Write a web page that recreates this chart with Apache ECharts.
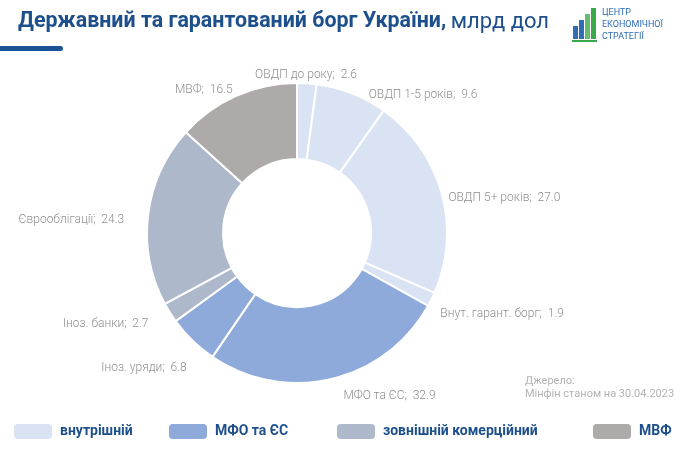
<!DOCTYPE html>
<html>
<head>
<meta charset="utf-8">
<script src="https://cdn.jsdelivr.net/npm/echarts@6/dist/echarts.min.js"></script>
<style>
  html, body { margin: 0; padding: 0; background: #fff; }
  #chart { width: 690px; height: 450px; }
</style>
</head>
<body>
<div id="chart"></div>
<script>
// складові боргу, млрд дол (Мінфін, 30.04.2023)
const names = ['ОВДП до року', 'ОВДП 1-5 років', 'ОВДП 5+ років', 'Внут. гарант. борг',
  'МФО та ЄС', 'Іноз. уряди', 'Іноз. банки', 'Єврооблігації', 'МВФ']
const values = [2.6, 9.6, 27.0, 1.9, 32.9, 6.8, 2.7, 24.3, 16.5]
// до якої групи належить кожна складова
const groupOf = [0, 0, 0, 0, 1, 1, 2, 2, 3]
const groupNames = ['внутрішній', 'МФО та ЄС', 'зовнішній комерційний', 'МВФ']
const groupColors = ['#dae3f3', '#8eaadb', '#adb9ca', '#aeaaaa']

const titleColor = '#1d4f8c'
const labelColor = '#8f8f8f'

// невеликі зсуви підписів, щоб лягли як в оригіналі (Excel best fit)
const labelNudge = [[-63, -4], [0, 2], [-3, 6], [-1, 13], [0, 13], [8, 25], [-7, 9], [-9, 6], [9, -2]]

const pieData = names.map((n, i) => ({
  name: n,
  value: values[i],
  itemStyle: { color: groupColors[groupOf[i]] }
}))

// окремі легенди, щоб поставити кожну як на оригіналі
const legendLeft = [14, 169, 337, 593]
const legends = groupNames.map((g, i) => ({
  data: [g],
  left: legendLeft[i],
  top: 424,
  padding: 0,
  icon: 'roundRect',
  itemWidth: 38,
  itemHeight: 15,
  selectedMode: false,
  textStyle: {
    color: titleColor,
    fontSize: 14,
    fontWeight: 'bold',
    fontFamily: 'Roboto',
    padding: [0, 0, 0, 3]
  }
}))

// порожні серії лише для легенди груп
const legendSeries = groupNames.map((g, i) => ({
  type: 'bar',
  name: g,
  data: [],
  itemStyle: { color: groupColors[i] }
}))

const chart = echarts.init(document.getElementById('chart'))
const option = {
  backgroundColor: '#fff',
  animation: false,
  textStyle: { fontFamily: 'Roboto' },
  title: {
    text: '{b|Державний та гарантований борг України,} {n|млрд дол}',
    left: 13,
    top: 6,
    textStyle: {
      rich: {
        b: { fontSize: 21.4, fontWeight: 'bold', color: titleColor, fontFamily: 'Roboto' },
        n: { fontSize: 22, fontWeight: 'normal', color: titleColor, fontFamily: 'Roboto' }
      }
    }
  },
  legend: legends,
  grid: { show: false, left: 0, top: 0, width: 1, height: 1 },
  xAxis: { show: false, type: 'category', data: [] },
  yAxis: { show: false, type: 'value' },
  graphic: [
    // синя риска під заголовком
    { type: 'rect', left: 0, top: 46, shape: { width: 63, height: 5, r: [0, 3, 3, 0] }, style: { fill: '#1b5296' } },
    // логотип
    { type: 'rect', left: 573, top: 26, shape: { width: 5, height: 13 }, style: { fill: '#2f6eb5' } },
    { type: 'rect', left: 579, top: 20, shape: { width: 5, height: 19 }, style: { fill: '#2f6eb5' } },
    { type: 'rect', left: 585, top: 14, shape: { width: 5, height: 25 }, style: { fill: '#67bd6b' } },
    { type: 'rect', left: 591, top: 8, shape: { width: 5, height: 31 }, style: { fill: '#3aa94a' } },
    { type: 'rect', left: 572, top: 40, shape: { width: 25, height: 2 }, style: { fill: '#3aa94a' } },
    {
      type: 'text', left: 602, top: 7,
      style: {
        text: 'ЦЕНТР\nЕКОНОМІЧНОЇ\nСТРАТЕГІЇ',
        fill: '#2f6eb5', font: '9px Roboto', lineHeight: 12
      }
    },
    // джерело
    {
      type: 'text', left: 525, top: 375,
      style: {
        text: 'Джерело:\nМінфін станом на 30.04.2023',
        fill: '#b3b3b3', font: '11px Roboto', lineHeight: 13
      }
    }
  ],
  series: [
    {
      type: 'pie',
      center: [297, 233],
      radius: [74, 150],
      startAngle: 90,
      clockwise: true,
      avoidLabelOverlap: true,
      itemStyle: { borderColor: '#fff', borderWidth: 2 },
      label: {
        show: true,
        position: 'outside',
        color: labelColor,
        fontSize: 12,
        fontWeight: 300,
        fontFamily: 'Roboto',
        formatter: p => p.name + ';  ' + p.value.toFixed(1)
      },
      labelLine: { show: false, length: 4, length2: 6 },
      labelLayout: p => ({ dx: labelNudge[p.dataIndex][0], dy: labelNudge[p.dataIndex][1] }),
      emphasis: { disabled: true },
      data: pieData
    }
  ].concat(legendSeries)
}
chart.setOption(option)
</script>
</body>
</html>
